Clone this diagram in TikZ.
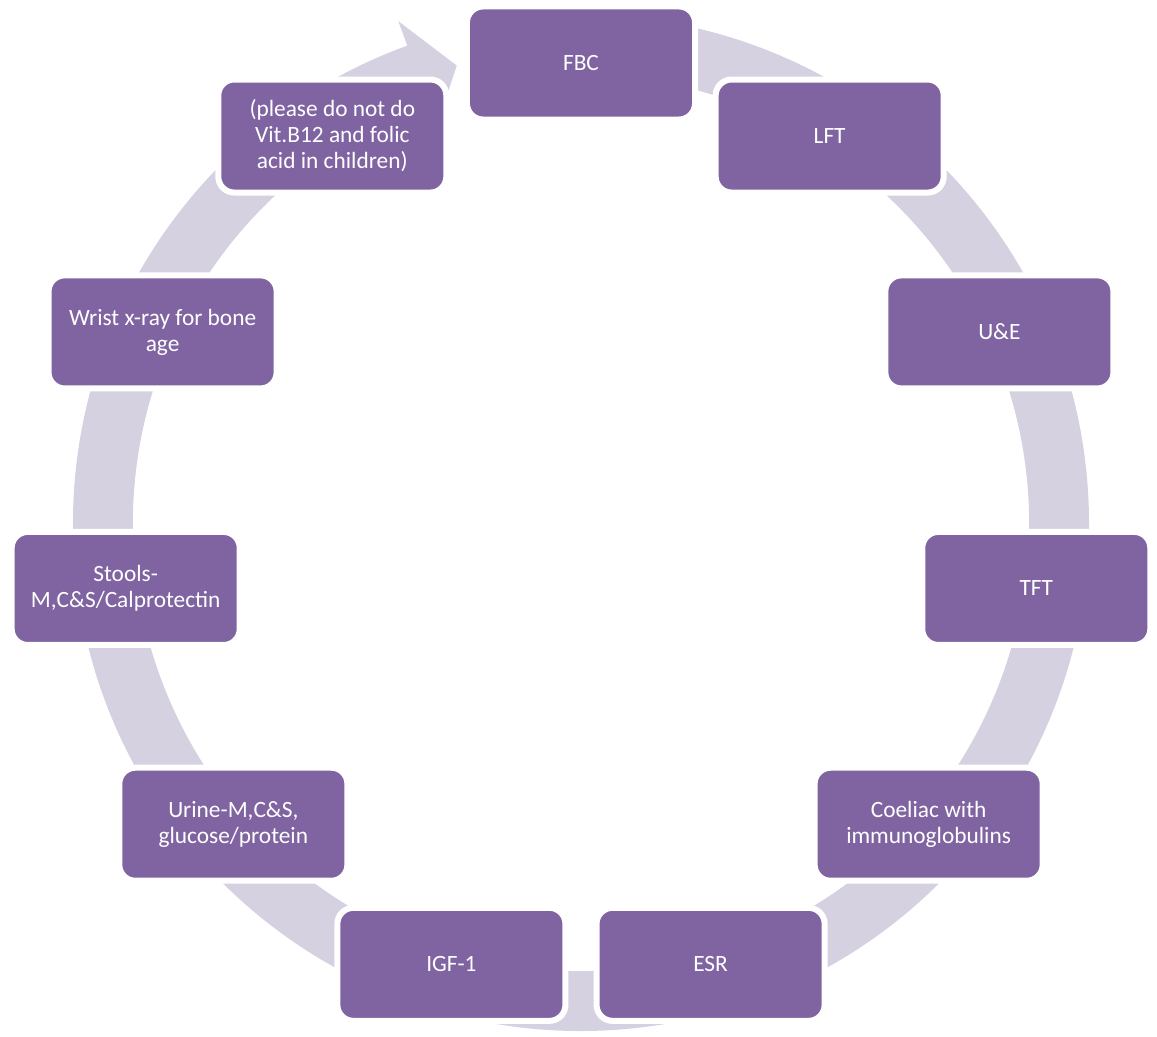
\documentclass[tikz,border=0pt]{standalone}
\usepackage{fontspec}
\setmainfont{Carlito}
\definecolor{boxpurple}{RGB}{128,100,162}
\definecolor{ringgray}{RGB}{213,209,225}
\tikzset{
    testbox/.style={draw=white, line width=0.15cm, fill=boxpurple, rounded corners=0.4cm,
        minimum width=5.7cm, minimum height=2.825cm, inner sep=2pt, align=center,
        text=white, font=\fontsize{16.6}{18.5}\selectfont}
}
\begin{document}
\begin{tikzpicture}[x=0.025cm, y=0.025cm]
                \useasboundingbox (-581,-514) rectangle (576,523);
                % ring arrow behind the boxes
                \fill[ringgray] (95:508) arc[start angle=95, end angle=-250, radius=508]
                    -- (110:534) -- (105.2:474) -- (110:422) -- (110:448)
                    arc[start angle=-250, end angle=95, radius=448] -- cycle;
                \foreach \i/\txt in {0/FBC, 1/LFT, 2/U\&E, 3/TFT,
                        4/{Coeliac with\\immunoglobulins}, 5/ESR, 6/IGF-1,
                        7/{Urine-M,C\&S,\\glucose/protein},
                        8/{Stools-\\M,C\&S/Calprotectin},
                        9/{Wrist x-ray for bone\\age},
                        10/{(please do not do\\Vit.B12 and folic\\acid in children)}}
                    \node[testbox] (n\i) at ({90-\i*360/11}:460) {\txt};
            \end{tikzpicture}
\end{document}
